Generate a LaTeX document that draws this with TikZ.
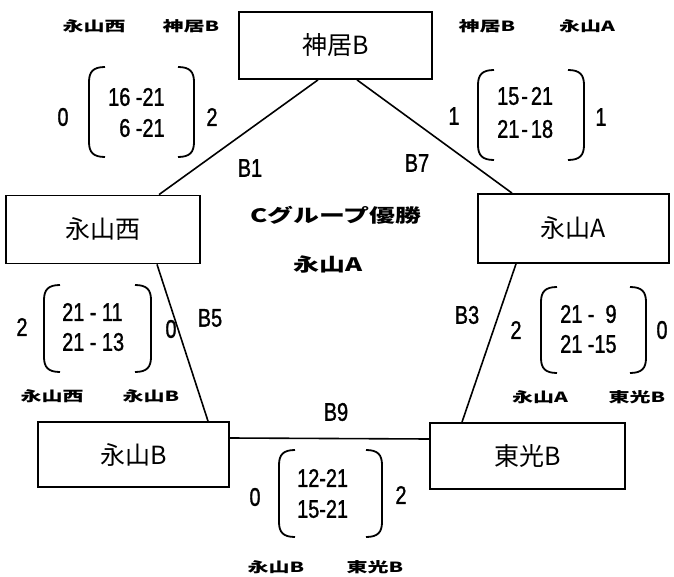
\documentclass[tikz,border=0pt]{standalone}
\usepackage{fontspec}
\setmainfont{Noto Sans CJK JP}
\newfontfamily\lblfont[FakeStretch=1.5]{Noto Sans CJK JP}
\newfontfamily\ttlfont[FakeStretch=1.4]{Noto Sans CJK JP}
\newfontfamily\numfont[FakeStretch=0.78,FakeBold=1.2]{Liberation Sans}
\usetikzlibrary{calc}
\newcommand\lbrk[3]{\draw[brk] (#1+16,#2) .. controls (#1+4,#2) and (#1,#2+5) .. (#1,#2+15) -- (#1,#3-15) .. controls (#1,#3-5) and (#1+4,#3) .. (#1+16,#3);}
\newcommand\rbrk[3]{\draw[brk] (#1-16,#2) .. controls (#1-4,#2) and (#1,#2+5) .. (#1,#2+15) -- (#1,#3-15) .. controls (#1,#3-5) and (#1-4,#3) .. (#1-16,#3);}
\begin{document}
\begin{tikzpicture}[x=1pt,y=-1pt,
  team/.style={draw=black, line width=1.8pt, inner sep=0pt, font=\fontsize{25}{28}\selectfont},
  link/.style={line width=1.6pt},
  brk/.style={line width=1.8pt},
  num/.style={font=\numfont\fontsize{25.5}{28}\selectfont, inner sep=0pt},
  lbl/.style={font=\lblfont\bfseries\fontsize{14}{16}\selectfont, inner sep=0pt},
  ttl/.style={font=\ttlfont\bfseries\fontsize{18.5}{20}\selectfont, inner sep=0pt}]
\useasboundingbox (0,0) rectangle (674,577);
\fill[white] (0,0) rectangle (674,577);

% teams
\node[team, minimum width=193pt, minimum height=67pt] (kb) at (335.5,45.5) {神居B};
\node[team, minimum width=194pt, minimum height=68pt] (nw) at (103,229.5) {永山西};
\node[team, minimum width=191pt, minimum height=69pt] (na) at (573.5,228.5) {永山A};
\node[team, minimum width=191pt, minimum height=65pt] (nb) at (133.5,454.5) {永山B};
\node[team, minimum width=195pt, minimum height=66pt] (tb) at (527.5,456) {東光B};

% connectors
\draw[link] ([xshift=-17.5pt]kb.south) -- ([xshift=56pt]nw.north);
\draw[link] ([xshift=21.5pt]kb.south) -- ([xshift=-61.5pt]na.north);
\draw[link] ([xshift=54pt]nw.south) -- ([xshift=74.5pt]nb.north);
\draw[link] ([xshift=-57.5pt]na.south) -- ([xshift=-65.5pt]tb.north);
\draw[link] ([yshift=16.5pt]nb.east) -- ([yshift=17pt]tb.west);

% match labels
\node[num] (b1) at (250,168) {B1};
\node[num] (b7) at (417,163) {B7};
\node[num] (b5) at (210,318) {B5};
\node[num] (b3) at (467,315) {B3};
\node[num] (b9) at (336,412) {B9};

% title
\node[ttl] (t1) at (336,215) {Cグループ優勝};
\node[ttl] (t2) at (328,264) {永山A};

% top-left result
\node[lbl] (l1a) at (94,26) {永山西};
\node[lbl] (l1b) at (191,26) {神居B};
\lbrk{89}{67}{157}\rbrk{194}{67}{157}
\node[num] (s1a) at (63,117) {0};
\node[num] (s1b) at (212,117) {2};
\node[num, anchor=west] (g1a) at (108,97) {16 -21};
\node[num, anchor=west] (g1b) at (108,128) {\hphantom{1}6 -21};

% top-right result
\node[lbl] (l2a) at (487,26) {神居B};
\node[lbl] (l2b) at (587,26) {永山A};
\lbrk{478}{70}{160}\rbrk{584}{70}{160}
\node[num] (s2a) at (454,116) {1};
\node[num] (s2b) at (601,117) {1};
\node[num, anchor=west] (g2a) at (497,96) {15\kern2pt-\kern3pt21};
\node[num, anchor=west] (g2b) at (497,129) {21\kern2pt-\kern3pt18};

% left-middle result
\node[lbl] (l3a) at (52,396) {永山西};
\node[lbl] (l3b) at (151,396) {永山B};
\lbrk{44}{285}{372}\rbrk{151}{285}{372}
\node[num] (s3a) at (22,327) {2};
\node[num] (s3b) at (171,329) {0};
\node[num, anchor=west] (g3a) at (62,312) {21 - 11};
\node[num, anchor=west] (g3b) at (62,342) {21 - 13};

% right-middle result
\node[lbl] (l4a) at (540,397) {永山A};
\node[lbl] (l4b) at (637,397) {東光B};
\lbrk{541}{287}{373}\rbrk{646}{287}{373}
\node[num] (s4a) at (516,330) {2};
\node[num] (s4b) at (662,330) {0};
\node[num, anchor=west] (g4a) at (560,314) {21 -\hphantom{1}9};
\node[num, anchor=west] (g4b) at (560,344) {21 -15};

% bottom result
\node[lbl] (l5a) at (276,567) {永山B};
\node[lbl] (l5b) at (375,567) {東光B};
\lbrk{279}{450}{537}\rbrk{382}{450}{537}
\node[num] (s5a) at (255,497) {0};
\node[num] (s5b) at (401,495) {2};
\node[num, anchor=west] (g5a) at (297,478) {12-21};
\node[num, anchor=west] (g5b) at (297,509) {15-21};
\end{tikzpicture}
\end{document}
